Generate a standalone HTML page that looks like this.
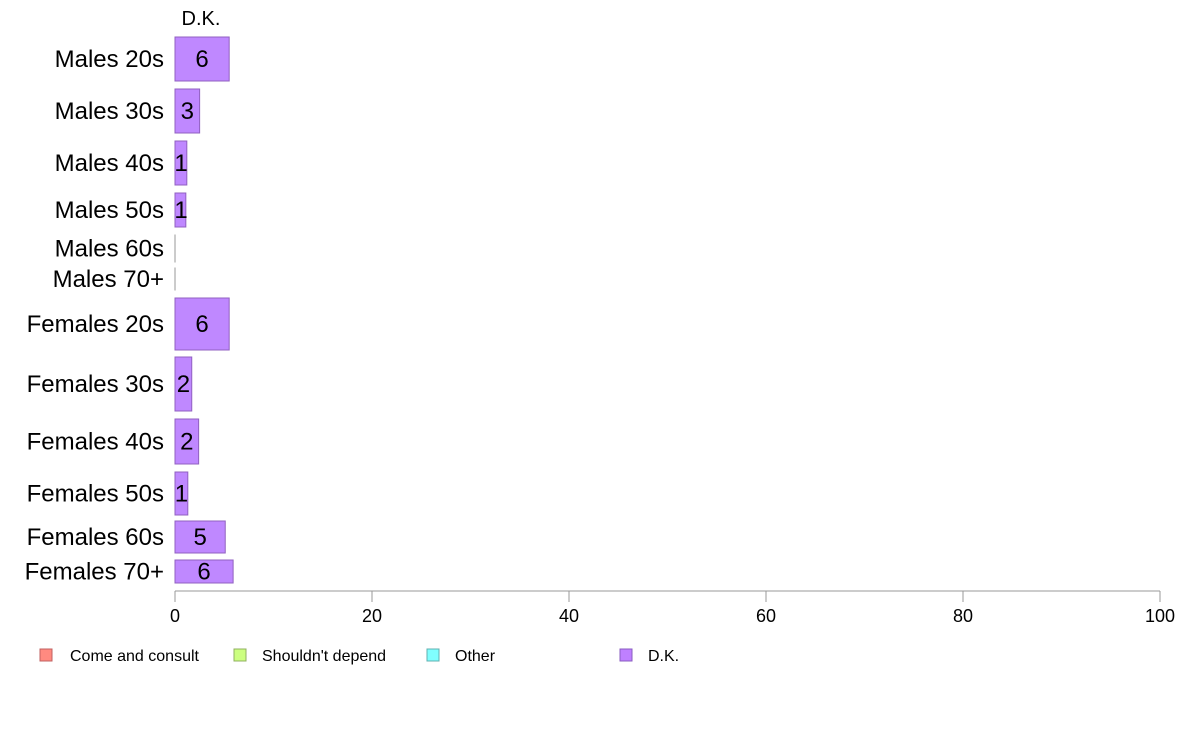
<!DOCTYPE html>
<html><head><meta charset="utf-8"><style>
body{margin:0;background:#fff;}
svg{display:block;font-family:"Liberation Sans",Arial,sans-serif;}
</style></head><body>
<svg id="chart" width="1188" height="736">
<g id="bars"></g>
<g id="axis"></g>
<text x="201" y="25" font-size="20" text-anchor="middle">D.K.</text>
<g>
<rect x="40" y="649" width="12" height="12" fill="#ff8a80" stroke="#c06060"/>
<text x="70" y="661" font-size="16">Come and consult</text>
<rect x="234" y="649" width="12" height="12" fill="#ccff80" stroke="#90b060"/>
<text x="262" y="661" font-size="16">Shouldn't depend</text>
<rect x="427" y="649" width="12" height="12" fill="#80ffff" stroke="#60b0b0"/>
<text x="455" y="661" font-size="16">Other</text>
<rect x="620" y="649" width="12" height="12" fill="#bf80ff" stroke="#8a5cc0"/>
<text x="648" y="661" font-size="16">D.K.</text>
</g>
</svg>
<script>
const categories=["Males 20s","Males 30s","Males 40s","Males 50s","Males 60s","Males 70+","Females 20s","Females 30s","Females 40s","Females 50s","Females 60s","Females 70+"];
const dkValues=[5.5,2.5,1.2,1.1,0,0,5.5,1.7,2.4,1.3,5.1,5.9];
const dkLabels=["6","3","1","1","","","6","2","2","1","5","6"];
const rowTop=[37,89,141,193,235,268,298,357,419,472,521,560];
const rowBottom=[81,133,185,227,262,290,350,411,464,515,553,583];
const ticks=[0,20,40,60,80,100];
const NS="http://www.w3.org/2000/svg";
const x0=175,x1=1160;
function xs(v){return x0+(x1-x0)*v/100;}
const bars=document.getElementById('bars');
categories.forEach((c,i)=>{
  const t=rowTop[i],b=rowBottom[i],mid=(t+b)/2;
  const lab=document.createElementNS(NS,'text');
  
  
  lab.setAttribute('x',164);lab.setAttribute('y',mid+8);
  lab.setAttribute('font-size',24);lab.setAttribute('text-anchor','end');
  lab.textContent=c;bars.appendChild(lab);
  const r=document.createElementNS(NS,'rect');
  
  
  const w=xs(dkValues[i])-x0;
  r.setAttribute('x',x0);r.setAttribute('y',t);r.setAttribute('width',Math.max(w,0.01));r.setAttribute('height',b-t);
  r.setAttribute('fill','#bf88ff');r.setAttribute('stroke',w>0?'#9060c0':'#999');r.setAttribute('stroke-width',1);
  bars.appendChild(r);
  if(dkLabels[i]){
    const v=document.createElementNS(NS,'text');
    
    
    v.setAttribute('x',x0+Math.max(w/2,6));v.setAttribute('y',mid+8);
    v.setAttribute('font-size',24);v.setAttribute('text-anchor','middle');
    v.textContent=dkLabels[i];bars.appendChild(v);
  }
});
const ax=document.getElementById('axis');
const line=document.createElementNS(NS,'line');


line.setAttribute('x1',x0);line.setAttribute('x2',x1);line.setAttribute('y1',591);line.setAttribute('y2',591);
line.setAttribute('stroke','#999');ax.appendChild(line);
ticks.forEach(t=>{
  const tk=document.createElementNS(NS,'line');
  
  
  tk.setAttribute('x1',xs(t));tk.setAttribute('x2',xs(t));tk.setAttribute('y1',591);tk.setAttribute('y2',602);
  tk.setAttribute('stroke','#999');ax.appendChild(tk);
  const tl=document.createElementNS(NS,'text');
  
  
  tl.setAttribute('x',xs(t));tl.setAttribute('y',622);tl.setAttribute('font-size',18);tl.setAttribute('text-anchor','middle');
  tl.textContent=t;ax.appendChild(tl);
});
</script>
</body></html>
